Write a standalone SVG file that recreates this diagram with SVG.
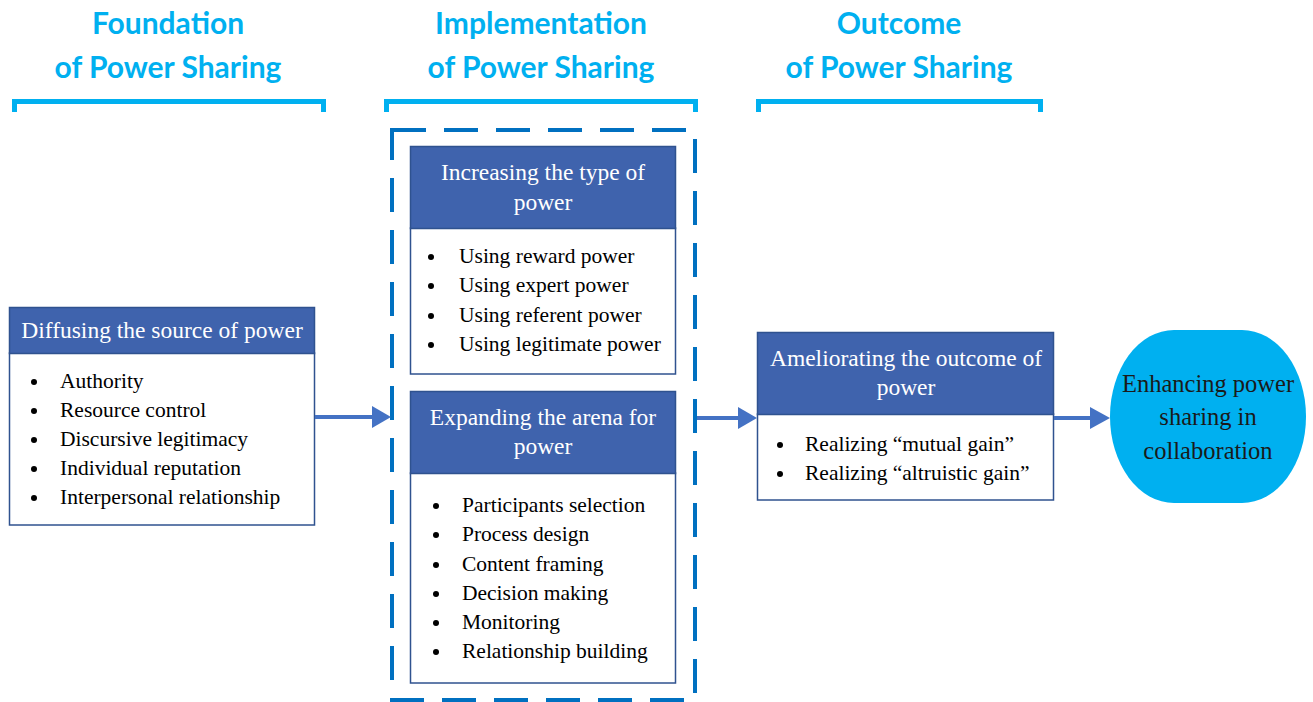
<svg xmlns="http://www.w3.org/2000/svg" width="1313" height="702" viewBox="0 0 1313 702">
  <style>
    .title { font-family: Lato, "Open Sans", "Liberation Sans", sans-serif; font-weight: bold; font-size: 30px; fill: #00b0f0; text-anchor: middle; }
    .bracket { fill: none; stroke: #00b0f0; stroke-width: 5; }
    .head { fill: #3f63ad; stroke: #2f528f; stroke-width: 1.5; }
    .body { fill: #ffffff; stroke: #2f528f; stroke-width: 1.5; }
    .htxt { font-family: "Liberation Serif", "Times New Roman", serif; font-size: 23.5px; fill: #ffffff; text-anchor: middle; }
    .item { font-family: "Liberation Serif", "Times New Roman", serif; font-size: 21.5px; fill: #000000; }
    .dot { fill: #000000; }
    .flow { stroke: #4472c4; stroke-width: 4; fill: none; }
    .head-tri { fill: #4472c4; }
    .dashbox { fill: none; stroke: #0070c0; stroke-width: 4; stroke-dasharray: 34 18; }
    .goal { font-family: "Liberation Serif", "Times New Roman", serif; font-size: 24.5px; fill: #1a1a1a; text-anchor: middle; }
  </style>

  <!-- Stage headings with brackets -->
  <g id="stage-foundation">
    <text class="title" x="168" y="34">Foundation</text>
    <text class="title" x="168" y="78">of Power Sharing</text>
    <path class="bracket" d="M14.5 112 V101.5 H323.5 V112"/>
  </g>
  <g id="stage-implementation">
    <text class="title" x="541" y="34">Implementation</text>
    <text class="title" x="541" y="78">of Power Sharing</text>
    <path class="bracket" d="M386.5 112 V101.5 H695.5 V112"/>
  </g>
  <g id="stage-outcome">
    <text class="title" x="899" y="34">Outcome</text>
    <text class="title" x="899" y="78">of Power Sharing</text>
    <path class="bracket" d="M758.5 112 V101.5 H1040.5 V112"/>
  </g>

  <!-- Dashed frame around implementation -->
  <g id="implementation-frame">
    <rect class="dashbox" x="392" y="130" width="303" height="570"/>
  </g>

  <!-- Diffusing the source of power -->
  <g id="node-diffusing">
    <rect class="body" x="9.5" y="353" width="305" height="172"/>
    <rect class="head" x="9.5" y="307.5" width="305" height="46"/>
    <text class="htxt" x="162" y="338">Diffusing the source of power</text>
    <g class="item">
      <circle class="dot" cx="34" cy="382" r="3"/><text x="60" y="388">Authority</text>
      <circle class="dot" cx="34" cy="411" r="3"/><text x="60" y="417">Resource control</text>
      <circle class="dot" cx="34" cy="440" r="3"/><text x="60" y="446">Discursive legitimacy</text>
      <circle class="dot" cx="34" cy="469" r="3"/><text x="60" y="475">Individual reputation</text>
      <circle class="dot" cx="34" cy="498" r="3"/><text x="60" y="504">Interpersonal relationship</text>
    </g>
  </g>

  <!-- Increasing the type of power -->
  <g id="node-increasing">
    <rect class="body" x="410.5" y="228" width="265" height="146"/>
    <rect class="head" x="410.5" y="146.5" width="265" height="82"/>
    <text class="htxt" x="543" y="180">Increasing the type of</text>
    <text class="htxt" x="543" y="210">power</text>
    <g class="item">
      <circle class="dot" cx="431" cy="257" r="3"/><text x="459" y="263">Using reward power</text>
      <circle class="dot" cx="431" cy="286" r="3"/><text x="459" y="292">Using expert power</text>
      <circle class="dot" cx="431" cy="316" r="3"/><text x="459" y="322">Using referent power</text>
      <circle class="dot" cx="431" cy="345" r="3"/><text x="459" y="351">Using legitimate power</text>
    </g>
  </g>

  <!-- Expanding the arena for power -->
  <g id="node-expanding">
    <rect class="body" x="410.5" y="473" width="265" height="210"/>
    <rect class="head" x="410.5" y="391.5" width="265" height="82"/>
    <text class="htxt" x="543" y="425">Expanding the arena for</text>
    <text class="htxt" x="543" y="454">power</text>
    <g class="item">
      <circle class="dot" cx="436" cy="506" r="3"/><text x="462" y="512">Participants selection</text>
      <circle class="dot" cx="436" cy="535" r="3"/><text x="462" y="541">Process design</text>
      <circle class="dot" cx="436" cy="565" r="3"/><text x="462" y="571">Content framing</text>
      <circle class="dot" cx="436" cy="594" r="3"/><text x="462" y="600">Decision making</text>
      <circle class="dot" cx="436" cy="623" r="3"/><text x="462" y="629">Monitoring</text>
      <circle class="dot" cx="436" cy="652" r="3"/><text x="462" y="658">Relationship building</text>
    </g>
  </g>

  <!-- Ameliorating the outcome of power -->
  <g id="node-ameliorating">
    <rect class="body" x="757.5" y="414" width="296" height="86"/>
    <rect class="head" x="757.5" y="332.5" width="296" height="82"/>
    <text class="htxt" x="906" y="366">Ameliorating the outcome of</text>
    <text class="htxt" x="906" y="395">power</text>
    <g class="item">
      <circle class="dot" cx="780" cy="445" r="3"/><text x="805" y="451">Realizing “mutual gain”</text>
      <circle class="dot" cx="780" cy="474" r="3"/><text x="805" y="480">Realizing “altruistic gain”</text>
    </g>
  </g>

  <!-- Enhancing power sharing (rounded terminator shape) -->
  <g id="node-enhancing">
    <rect x="1110" y="330" width="196" height="173" rx="64" ry="86.5" fill="#00b0f0"/>
    <text class="goal" x="1208" y="392">Enhancing power</text>
    <text class="goal" x="1208" y="425">sharing in</text>
    <text class="goal" x="1208" y="459">collaboration</text>
  </g>

  <!-- Connectors -->
  <g id="connectors">
    <line class="flow" x1="315" y1="417" x2="374" y2="417"/>
    <polygon class="head-tri" points="372,406 391,417 372,428"/>
    <line class="flow" x1="697" y1="418" x2="740" y2="418"/>
    <polygon class="head-tri" points="738,407 757,418 738,429"/>
    <line class="flow" x1="1054" y1="418" x2="1092" y2="418"/>
    <polygon class="head-tri" points="1090,407 1110,418 1090,429"/>
  </g>
</svg>
